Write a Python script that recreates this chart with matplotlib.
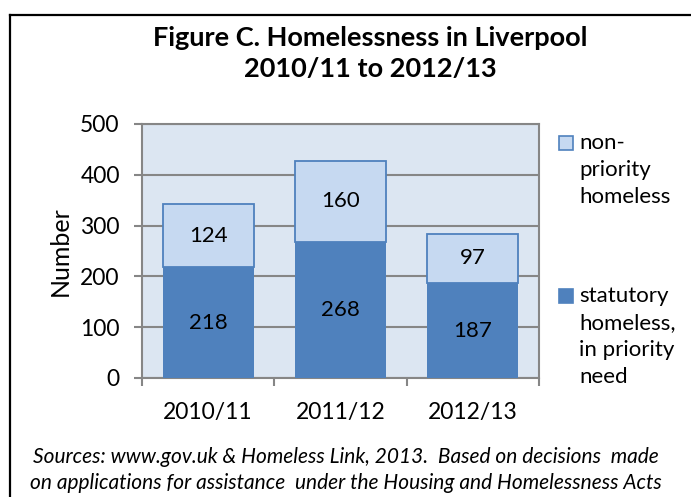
import matplotlib.pyplot as plt
from matplotlib.lines import Line2D
from matplotlib.patches import Rectangle

plt.rcParams['font.family'] = ['Lato', 'DejaVu Sans']

years = ["2010/11", "2011/12", "2012/13"]
statutory = [218, 268, 187]
non_priority = [124, 160, 97]
legend_labels = ["non-\npriority\nhomeless", "statutory\nhomeless,\nin priority\nneed"]

W, H = 691, 497
dark = "#4F81BD"
light = "#C6D9F1"
grey = "#868686"

fig = plt.figure(figsize=(W / 100, H / 100), dpi=100)

# frame round the figure (top and left only, as in the original)
fig.add_artist(Line2D([10 / W, 10 / W], [0, 1 - 15 / H], color="black", lw=1.6))
fig.add_artist(Line2D([10 / W, 1], [1 - 15 / H, 1 - 15 / H], color="black", lw=1.6))

ax = fig.add_axes([142 / W, 1 - 378 / H, 397 / W, 254 / H])
ax.set_facecolor("#DCE6F2")

x = list(range(len(years)))
b1 = ax.bar(x, statutory, width=0.69, color=dark, zorder=3)
b2 = ax.bar(x, non_priority, bottom=statutory, width=0.69, color=light,
            edgecolor=dark, linewidth=1.3, zorder=3)
ax.bar_label(b1, label_type="center", fontsize=16)
ax.bar_label(b2, label_type="center", fontsize=16)

ax.set_xlim(-0.5, 2.5)
ax.set_ylim(0, 500)
ax.set_yticks(range(0, 501, 100))
ax.grid(axis="y", color=grey, lw=1.5, zorder=0)
for s in ax.spines.values():
    s.set_color(grey)
    s.set_linewidth(1.5)

ax.set_xticks(x)
ax.set_xticklabels(years)
ax.set_xticks([-0.5, 0.5, 1.5, 2.5], minor=True)
ax.tick_params(axis="x", which="major", length=0, pad=17, labelsize=16.5)
ax.tick_params(axis="x", which="minor", length=6, width=1.5, color=grey)
ax.tick_params(axis="y", length=6, width=1.5, color=grey, pad=10, labelsize=16.5)
ax.set_ylabel("Number", fontsize=18, labelpad=6)

fig.text(370 / W, 1 - 53 / H, "Figure C. Homelessness in Liverpool\n2010/11 to 2012/13",
         ha="center", va="center", fontsize=19.5, fontweight="bold", linespacing=1.35)

# legend
for y_top, col, lab in [(136, light, legend_labels[0]), (289, dark, legend_labels[1])]:
    fig.add_artist(Rectangle((559 / W, 1 - (y_top + 14) / H), 14 / W, 14 / H,
                             transform=fig.transFigure, facecolor=col,
                             edgecolor=dark, lw=1.2))
    fig.text(579 / W, 1 - (y_top - 3) / H, lab, ha="left", va="top",
             fontsize=16, linespacing=1.44)

fig.text(346 / W, 1 - 470 / H,
         "Sources: www.gov.uk & Homeless Link, 2013.  Based on decisions  made\n"
         "on applications for assistance  under the Housing and Homelessness Acts",
         ha="center", va="center", fontsize=15, style="italic", linespacing=1.35)

fig.savefig("out.png", dpi=100)
